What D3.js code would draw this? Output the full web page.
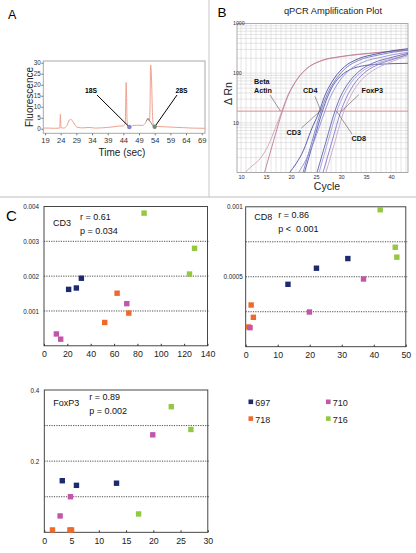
<!DOCTYPE html>
<html><head><meta charset="utf-8">
<script src="https://cdn.jsdelivr.net/npm/d3@7"></script>
<style>
html,body{margin:0;padding:0;background:#fff;}
svg{display:block;font-family:"Liberation Sans",Arial,Helvetica,sans-serif;}
text{white-space:pre;}
</style></head><body>
<svg id="c" width="416" height="553"></svg>
<script>
// ---------- Panel A: electropherogram ----------
const aTime  = [18.5,20,22,23.7,23.9,24.1,25,26,26.8,27.3,28,28.8,29.5,31,33,35,37,39,41,42.5,44,44.6,44.9,45.2,45.6,46.2,47,48.5,50,51,51.8,52.3,52.5,52.7,53,53.3,53.6,54.2,55,57,60,63,66,70];
const aFluor = [0.3,0.3,0.2,0.3,6.6,0.5,0.3,1.5,4.0,4.2,3.0,1.2,0.6,0.4,0.6,0.3,0.4,0.6,0.9,1.2,1.3,2.5,21,3,0.6,0.5,1.5,1.6,1.5,2.5,4.5,3.5,10,29,22,6,1.5,1.2,1.0,0.9,0.7,0.5,0.3,0.2];
const aTimeTicks = [19,24,29,34,39,44,49,54,59,64,69];
const aFluorTicks = [0,5,10,15,20,25,30];
const aPeakLabels = ["18S","28S"];
const aPeakTime = [45.9,54.0];
const aPeakFluor = [0.8,0.9];
const aHumpTime = [51.3,51.9,53.5];
const aHumpFluor = [3.5,4.8,1.2];

// ---------- Panel B: qPCR amplification curves ([cycle, dRn]) ----------
const betaActinA = [[10.8,1],[12.2,1.35],[14,2],[15.5,3.6],[16.9,8],[18.2,17.4],[19.2,33],[20.2,52],[21.2,75],[23.2,125],[25.7,172],[29.7,212],[34,240],[38.5,265],[43.4,290]];
const betaActinB = [[14.7,1],[16.5,4.3],[18.3,17.4],[19.3,33],[20.3,53],[21.3,77],[23.3,127],[25.8,175],[29.8,215],[34,243],[38.5,268],[43.4,295]];
const cd3A = [[19.7,1],[21,1.5],[22.5,2.8],[24,7],[25.7,17.4],[26.7,34],[27.7,55],[28.7,80],[30.7,135],[33.2,190],[37.2,245],[40.5,285],[43.4,310]];
const cd3B = [[22.4,1],[24.2,4.2],[26,17.4],[27,33],[28,53],[29,76],[31,128],[33.5,180],[37.5,232],[40.5,265],[43.4,290]];
const cd4A = [[22.7,1],[24.5,4.2],[26.3,17.4],[27.3,33],[28.3,54],[29.3,75],[30.5,98],[32,120],[34,138],[37,150],[43.4,158]];
const cd4B = [[21.5,1],[23,1.8],[24.5,4],[25.7,8.5],[26.8,17.4],[27.8,32],[28.8,50],[29.8,72],[31.8,118],[34.3,165],[38.3,212],[41,242],[43.4,262]];
const cd8A = [[25.2,1],[27,4.2],[28.8,17.4],[29.8,32],[30.8,50],[31.8,70],[33.8,113],[36.3,158],[40.3,210],[43.4,250]];
const cd8B = [[25.6,1],[27.4,4.2],[29.2,17.4],[30.2,31],[31.2,48],[32.2,68],[34.2,108],[36.7,150],[40.7,200],[43.4,235]];
const foxp3A = [[26.4,1],[28.2,4.2],[30,17.4],[31,31],[32,48],[33,68],[35,108],[37.5,150],[41.5,205],[43.4,240]];
const foxp3B = [[27,1],[28.8,4.2],[30.6,17.4],[31.6,30],[32.6,46],[33.6,64],[35.6,100],[38.1,140],[41,185],[43.4,225]];
const bThreshold = 17.2;
const bCycleTicks = [10,15,20,25,30,35,40];
const bRnTicks = [10,100,1000];
const bCalloutNames = ["Beta Actin","CD4","CD3","FoxP3","CD8"];
const bCalloutCycle = [17.9,26.0,25.8,30.1,29.1];

// ---------- Panel C: scatter plots ----------
const sampleIds = ["697","710","718","716"];
const sampleColors = ["#1d2a6e","#c257aa","#ee6a2b","#93c840"];

const cd3Sample = ["716","716","716","697","697","697","718","718","718","710","710","710"];
const cd3X = [85.7,124.6,128.9,21.1,27.7,32.0,62.6,52.0,72.6,70.9,10.6,14.3];
const cd3Y = [0.00381,0.00206,0.0028,0.00162,0.00166,0.00194,0.00151,0.00067,0.00094,0.00121,0.00034,0.00019];
const cd3XTicks = [0,20,40,60,80,100,120,140];
const cd3YTicks = [0.001,0.002,0.003,0.004];
const cd3YLabels = ["0.001","0.002","0.003","0.004"];
const cd3Grid = [0.001,0.002,0.003];

const cd8Sample = ["716","716","716","697","697","697","718","718","718","710","710","710"];
const cd8X = [42.0,46.7,47.2,13.2,22.1,31.9,1.7,2.4,0.9,36.8,19.9,1.35];
const cd8Y = [0.000979,0.000711,0.00064,0.000446,0.000561,0.00063,0.000298,0.00021,0.000141,0.000484,0.000248,0.000136];
const cd8XTicks = [0,10,20,30,40,50];
const cd8YTicks = [0.0005,0.001];
const cd8YLabels = ["0.0005","0.001"];
const cd8Grid = [0.00025,0.0005,0.00075];

const foxSample = ["716","716","716","697","697","697","718","718","718","710","710","710"];
const foxX = [23.3,26.9,17.3,3.3,5.9,13.25,1.5,4.7,5.0,19.9,4.8,2.9];
const foxY = [0.353,0.289,0.0515,0.145,0.132,0.138,0.0066,0.0066,0.0066,0.274,0.100,0.046];
const foxXTicks = [0,5,10,15,20,25,30];
const foxYTicks = [0.2,0.4];
const foxYLabels = ["0.2","0.4"];
const foxGrid = [0.1,0.2,0.3];

const statsCD3 = ["CD3","r = 0.61","p = 0.034"];
const statsCD8 = ["CD8","r = 0.86","p <  0.001"];
const statsFox = ["FoxP3","r = 0.89","p = 0.002"];

// =====================================================================
const svg = d3.select("#c");
const color = d3.scaleOrdinal(sampleIds, sampleColors);

// separators
svg.append("line").attr("x1",0).attr("x2",416).attr("y1",197).attr("y2",197).attr("stroke","#bdbdbd").attr("stroke-width",1);
svg.append("line").attr("x1",209).attr("x2",209).attr("y1",0).attr("y2",197).attr("stroke","#c8c8c8").attr("stroke-width",1);

// panel letters
svg.append("text").attr("x",8).attr("y",18.5).attr("font-size",12.5).text("A");
svg.append("text").attr("x",217.5).attr("y",17).attr("font-size",13.5).text("B");
svg.append("text").attr("x",6).attr("y",220.5).attr("font-size",15).text("C");

// ---------------- Panel A ----------------
(function(){
  const L=43.3,R=205,T=61,B=133.3;
  const x = d3.scaleLinear([18.45,70.05],[L,R]);
  const y = d3.scaleLinear([-2.07,30.8],[B,T]);
  const g = svg.append("g");
  g.append("rect").attr("x",L).attr("y",T).attr("width",R-L).attr("height",B-T).attr("fill","none").attr("stroke","#a8a8a8").attr("stroke-width",1);
  const ax = g.append("g").attr("transform",`translate(0,${B})`).call(d3.axisBottom(x).tickValues(aTimeTicks).tickSize(2).tickPadding(2.5));
  ax.select(".domain").remove();
  ax.selectAll("line").attr("stroke","#777");
  ax.selectAll("text").attr("font-size",7.6).attr("fill","#333").attr("font-family",null);
  const ay = g.append("g").attr("transform",`translate(${L},0)`).call(d3.axisLeft(y).tickValues(aFluorTicks).tickSize(2).tickPadding(0.5));
  ay.select(".domain").remove();
  ay.selectAll("line").attr("stroke","#777");
  ay.selectAll("text").attr("font-size",6.3).attr("fill","#333").attr("font-family",null);
  const line = d3.line().x((d,i)=>x(aTime[i])).y((d,i)=>y(aFluor[i])).curve(d3.curveMonotoneX);
  g.append("path").attr("d",line(aTime)).attr("fill","none").attr("stroke","#f0a090").attr("stroke-width",1);
  const hump = d3.line().x((d,i)=>x(aHumpTime[i])).y((d,i)=>y(aHumpFluor[i]));
  g.append("path").attr("d",hump(aHumpTime)).attr("fill","none").attr("stroke","#777").attr("stroke-width",0.8);
  const labelPos = [[91,92.5,97,95],[181.5,92.5,177,95]];
  aPeakLabels.forEach((lab,i)=>{
    const px=x(aPeakTime[i]), py=y(aPeakFluor[i]);
    g.append("line").attr("x1",labelPos[i][2]).attr("y1",labelPos[i][3]).attr("x2",px).attr("y2",py).attr("stroke","#000").attr("stroke-width",1);
    g.append("text").attr("x",labelPos[i][0]).attr("y",labelPos[i][1]).attr("text-anchor","middle").attr("font-size",6.8).attr("font-weight","bold").text(lab);
  });
  g.append("circle").attr("cx",x(aPeakTime[0])).attr("cy",y(aPeakFluor[0])).attr("r",2.2).attr("fill","#8080d0");
  g.append("circle").attr("cx",x(aPeakTime[1])).attr("cy",y(aPeakFluor[1])).attr("r",2.2).attr("fill","#6f8a7c");
  g.append("text").attr("transform","translate(32.5,97) rotate(-90)").attr("text-anchor","middle").attr("font-size",10).attr("fill","#222").text("Fluorescence");
  g.append("text").attr("x",122).attr("y",155.5).attr("text-anchor","middle").attr("font-size",10).attr("fill","#222").text("Time (sec)");
})();

// ---------------- Panel B ----------------
(function(){
  const L=237,R=408,T=23.5,B=172.5;
  const x = d3.scaleLinear([9.2,43.4],[L,R]);
  const y = d3.scaleLog([1,1000],[B,T]);
  const g = svg.append("g");
  g.append("defs").append("clipPath").attr("id","clipB").append("rect").attr("x",L).attr("y",T).attr("width",R-L).attr("height",B-T);
  // grid
  const vTicks = d3.range(10,44);
  const hTicks = [];
  [1,10,100].forEach(d=>{ for(let k=1;k<10;k++) hTicks.push(d*k); });
  g.append("g").selectAll("line").data(vTicks).join("line")
    .attr("x1",d=>x(d)).attr("x2",d=>x(d)).attr("y1",T).attr("y2",B).attr("stroke","#d4d4d4").attr("stroke-width",0.6);
  g.append("g").selectAll("line").data(hTicks).join("line")
    .attr("x1",L).attr("x2",R).attr("y1",d=>y(d)).attr("y2",d=>y(d)).attr("stroke","#d4d4d4").attr("stroke-width",0.6);
  g.append("rect").attr("x",L).attr("y",T).attr("width",R-L).attr("height",B-T).attr("fill","none").attr("stroke","#9a9a9a").attr("stroke-width",0.8);
  // threshold
  g.append("line").attr("x1",L).attr("x2",R).attr("y1",y(bThreshold)).attr("y2",y(bThreshold)).attr("stroke","#e3898c").attr("stroke-width",1);
  // curves
  const line = d3.line().x(d=>x(d[0])).y(d=>y(d[1])).curve(d3.curveMonotoneX);
  const curves = [
    [betaActinA,"#d3a2b6"],[betaActinB,"#bf7c96"],
    [cd3A,"#4a4da0"],[cd3B,"#7478c8"],[cd4A,"#5657a6"],[cd4B,"#9490d8"],
    [cd8A,"#5e63b0"],[cd8B,"#aaa2dc"],[foxp3A,"#857ac4"],[foxp3B,"#c9a6cf"]
  ];
  const cg = g.append("g").attr("clip-path","url(#clipB)");
  curves.forEach(c=>cg.append("path").attr("d",line(c[0])).attr("fill","none").attr("stroke",c[1]).attr("stroke-width",0.9));
  // axes
  const ax = g.append("g").attr("transform",`translate(0,${B})`).call(d3.axisBottom(x).tickValues(bCycleTicks).tickSize(0).tickPadding(3));
  ax.select(".domain").remove();
  ax.selectAll("text").attr("font-size",5.6).attr("fill","#333").attr("font-family",null);
  g.append("g").selectAll("text").data(bRnTicks).join("text")
    .attr("x",233).attr("y",d=>y(d)+1.8).attr("font-size",5.2).attr("fill","#333").text(d=>d);
  g.append("text").attr("x",333).attr("y",13.5).attr("text-anchor","middle").attr("font-size",9.3).attr("fill","#222").text("qPCR Amplification Plot");
  g.append("text").attr("transform","translate(231.5,93.5) rotate(-90)").attr("text-anchor","middle").attr("font-size",10.5).attr("fill","#222").text("\u0394 Rn");
  g.append("text").attr("x",327).attr("y",190).attr("text-anchor","middle").attr("font-size",10.5).attr("fill","#222").text("Cycle");
  // callouts: [textX, textY, lineStartX, lineStartY]
  const cpos = [[254,83.5,270,95],[303,92.5,315,96.5],[286.5,134.5,301.5,128],[361.5,92.5,359,94.5],[351.5,140.5,352,134]];
  bCalloutNames.forEach((nm,i)=>{
    const px=x(bCalloutCycle[i]), py=y(bThreshold);
    g.append("line").attr("x1",cpos[i][2]).attr("y1",cpos[i][3]).attr("x2",px).attr("y2",py).attr("stroke","#555").attr("stroke-width",0.6);
    const t = g.append("text").attr("x",cpos[i][0]).attr("y",cpos[i][1]).attr("font-size",7.2).attr("font-weight","bold").attr("fill","#111");
    const parts = nm.split(" ");
    if(nm==="Beta Actin"){
      t.append("tspan").attr("x",cpos[i][0]).attr("dy",0).text(parts[0]);
      t.append("tspan").attr("x",cpos[i][0]).attr("dy",9).text(parts[1]);
    } else t.text(nm);
  });
})();

// ---------------- Panel C ----------------
function scatter(o){
  const x = d3.scaleLinear(o.xd,[o.L,o.R]);
  const y = d3.scaleLinear(o.yd,[o.B,o.T]);
  const g = svg.append("g");
  g.selectAll("line.grid").data(o.grid).join("line").attr("class","grid")
    .attr("x1",o.L).attr("x2",o.R+1.5).attr("y1",d=>y(d)).attr("y2",d=>y(d))
    .attr("stroke","#222").attr("stroke-width",0.8).attr("stroke-dasharray","1.2,1.2");
  g.append("rect").attr("x",o.L).attr("y",o.T).attr("width",o.R-o.L).attr("height",o.B-o.T).attr("fill","none").attr("stroke","#333").attr("stroke-width",0.9);
  const ax = g.append("g").attr("transform",`translate(0,${o.B})`).call(d3.axisBottom(x).tickValues(o.xt).tickSize(-2).tickPadding(5).tickFormat(d3.format("d")));
  ax.select(".domain").remove();
  ax.selectAll("line").attr("stroke","#333");
  ax.selectAll("text").attr("font-size",8.8).attr("fill","#222").attr("font-family",null);
  const ay = g.append("g").attr("transform",`translate(${o.L},0)`).call(d3.axisLeft(y).tickValues(o.yt).tickSize(0).tickPadding(o.pad).tickFormat((d,i)=>o.yl[i]));
  ay.select(".domain").remove();
  ay.selectAll("text").attr("font-size",6.3).attr("fill","#222").attr("font-family",null);
  const s=5.4;
  g.selectAll("rect.pt").data(o.xs).join("rect").attr("class","pt")
    .attr("x",(d,i)=>x(o.xs[i])-s/2).attr("y",(d,i)=>y(o.ys[i])-s/2).attr("width",s).attr("height",s)
    .attr("fill",(d,i)=>color(o.sm[i]));
  g.append("text").attr("x",o.L+o.lab[0]).attr("y",o.T+o.lab[1]).attr("font-size",9).attr("fill","#111").text(o.st[0]);
  g.append("text").attr("x",o.L+o.lab[2]).attr("y",o.T+o.lab[3]).attr("font-size",9).attr("fill","#111").text(o.st[1]);
  g.append("text").attr("x",o.L+o.lab[2]).attr("y",o.T+o.lab[3]+13.5).attr("font-size",9).attr("fill","#111").text(o.st[2]);
}
scatter({L:44,R:207.5,T:206.5,B:345.8,xd:[0,140],yd:[0,0.004],xt:cd3XTicks,yt:cd3YTicks,yl:cd3YLabels,grid:cd3Grid,pad:5,
  xs:cd3X,ys:cd3Y,sm:cd3Sample,st:statsCD3,lab:[9,19.5,36,13.5]});
scatter({L:245.7,R:405.8,T:206.8,B:346.7,xd:[0,50],yd:[0,0.001],xt:cd8XTicks,yt:cd8YTicks,yl:cd8YLabels,grid:cd8Grid,pad:3,
  xs:cd8X,ys:cd8Y,sm:cd8Sample,st:statsCD8,lab:[8.5,13.5,32.5,11.5]});
scatter({L:44.3,R:207.8,T:390,B:532.3,xd:[0,30],yd:[0,0.4],xt:foxXTicks,yt:foxYTicks,yl:foxYLabels,grid:foxGrid,pad:5,
  xs:foxX,ys:foxY,sm:foxSample,st:statsFox,lab:[9,16,45,10]});

// legend
const legPos = [[248.5,399.5],[326,399.5],[248.5,416.3],[326,416.3]];
sampleIds.forEach((id,i)=>{
  svg.append("rect").attr("x",legPos[i][0]).attr("y",legPos[i][1]).attr("width",4.6).attr("height",4.6).attr("fill",color(id));
  svg.append("text").attr("x",legPos[i][0]+6.7).attr("y",legPos[i][1]+6.2).attr("font-size",9).attr("fill","#222").text(id);
});
</script></body></html>
